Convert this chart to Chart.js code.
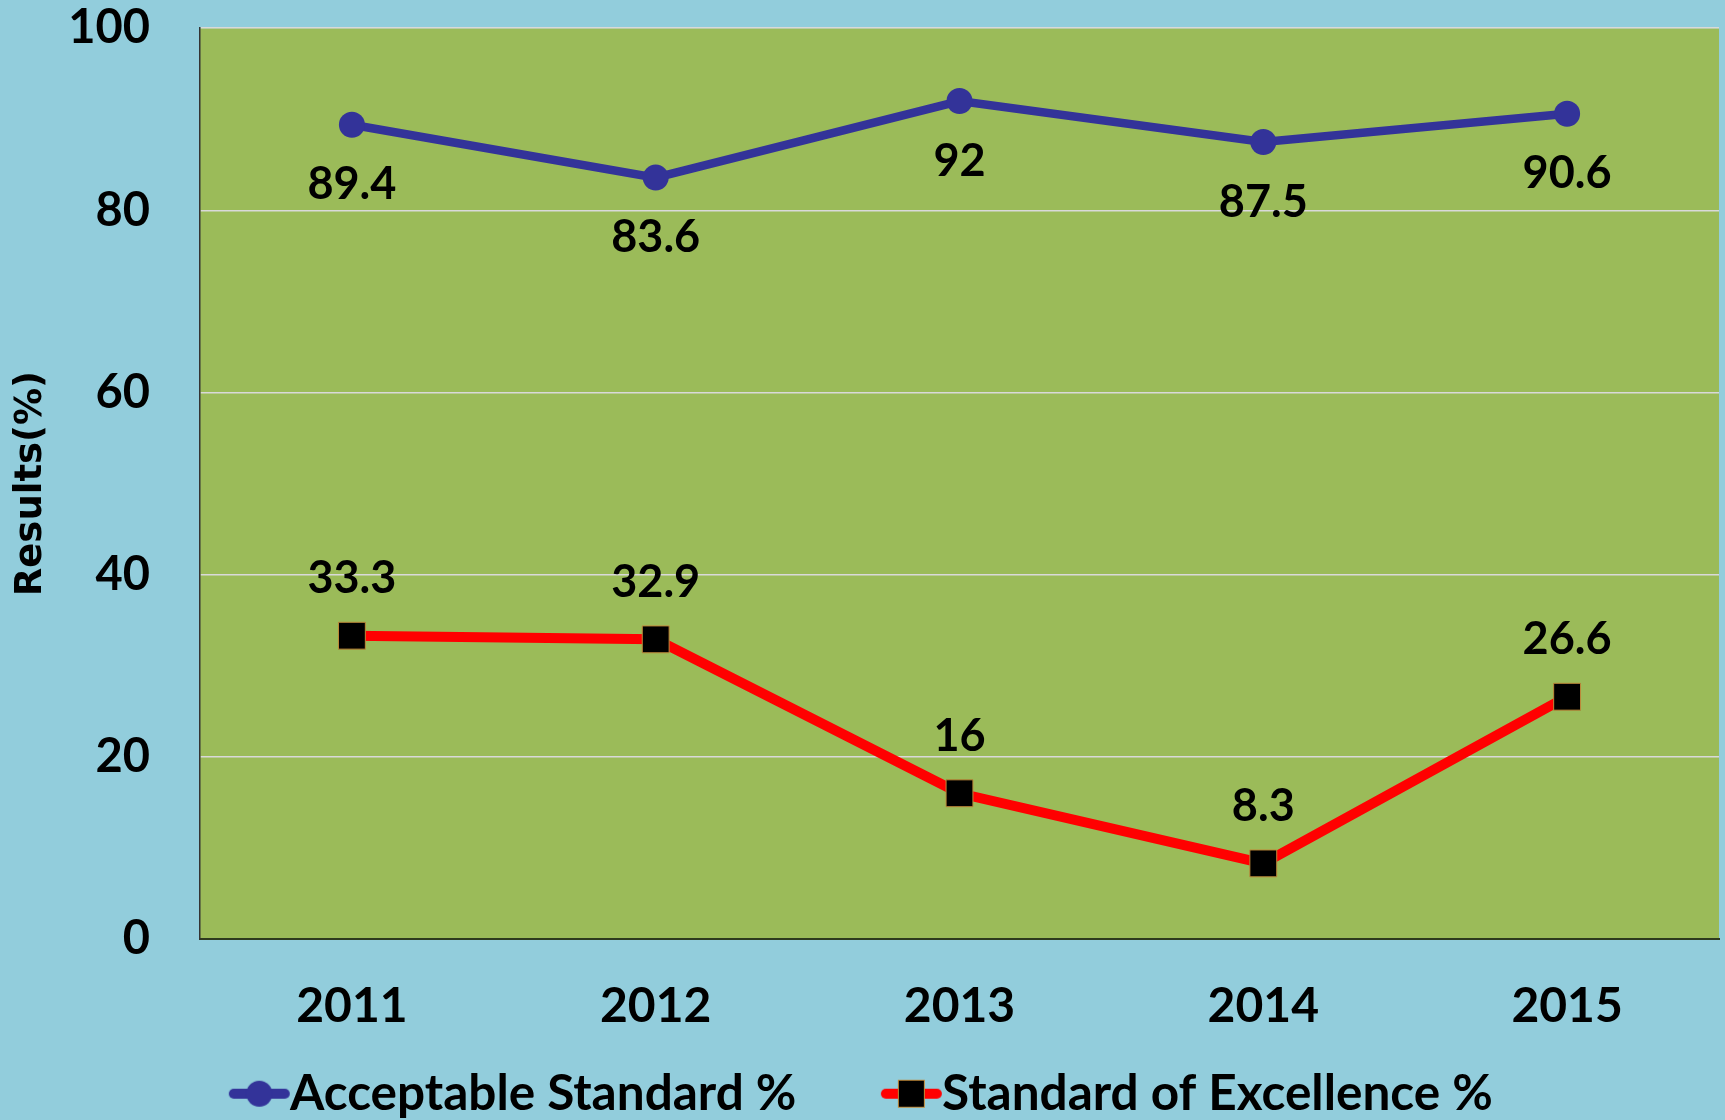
<!DOCTYPE html>
<html>
<head>
<meta charset="utf-8">
<script src="https://cdn.jsdelivr.net/npm/chart.js@4"></script>
<style>
  html, body { margin: 0; padding: 0; background: #92CDDC; overflow: hidden; }
  #wrap { width: 1725px; height: 1120px; }
  canvas { display: block; }
</style>
</head>
<body>
<div id="wrap"><canvas id="c" width="1725" height="1120"></canvas></div>
<script>
const categories = ['2011', '2012', '2013', '2014', '2015'];
const acceptable = [89.4, 83.6, 92, 87.5, 90.6];
const excellence = [33.3, 32.9, 16, 8.3, 26.6];
const seriesNames = ['Acceptable Standard %', 'Standard of Excellence %'];
const yTicks = [0, 20, 40, 60, 80, 100];
const yTitle = 'Results(%)';

const FONT = 'Lato';
const BLUE = '#333399';
const RED = '#FF0000';

// legend markers (line + point), drawn as small canvases
function legendMarker(kind) {
  const c = document.createElement('canvas');
  c.width = 140; c.height = 34;
  const g = c.getContext('2d');
  const x0 = 78, x1 = 139, cy = 17;
  g.lineCap = 'round';
  g.lineWidth = 10;
  g.strokeStyle = kind === 'circle' ? BLUE : RED;
  g.beginPath(); g.moveTo(x0 + 5, cy); g.lineTo(x1 - 5, cy); g.stroke();
  const mx = (x0 + x1) / 2;
  if (kind === 'circle') {
    g.fillStyle = BLUE;
    g.beginPath(); g.arc(mx, cy, 13, 0, Math.PI * 2); g.fill();
  } else {
    g.fillStyle = '#000000';
    g.fillRect(mx - 13, cy - 13.5, 26, 27);
    g.strokeStyle = '#C08A3A'; g.lineWidth = 1;
    g.strokeRect(mx - 13, cy - 13.5, 26, 27);
  }
  return c;
}
const markers = [legendMarker('circle'), legendMarker('rect')];

const plotBg = {
  id: 'plotBg',
  beforeDraw(chart) {
    const {ctx, chartArea: a} = chart;
    ctx.save();
    ctx.fillStyle = '#9BBB59';
    ctx.fillRect(a.left, a.top, a.right - a.left, a.bottom - a.top);
    ctx.restore();
  }
};

const valueLabels = {
  id: 'valueLabels',
  afterDatasetsDraw(chart) {
    const ctx = chart.ctx;
    ctx.save();
    ctx.font = 'bold 45px ' + FONT;
    ctx.fillStyle = '#000';
    ctx.textAlign = 'center';
    ctx.textBaseline = 'middle';
    chart.data.datasets.forEach((ds, i) => {
      const meta = chart.getDatasetMeta(i);
      meta.data.forEach((pt, j) => {
        const off = i === 0 ? 60 : -57;
        ctx.fillText(String(ds.data[j]), pt.x, pt.y + off);
      });
    });
    ctx.restore();
  }
};

new Chart(document.getElementById('c'), {
  type: 'line',
  data: {
    labels: categories,
    datasets: [
      {
        label: seriesNames[0],
        data: acceptable,
        borderColor: BLUE,
        backgroundColor: BLUE,
        borderWidth: 8.5,
        pointStyle: 'circle',
        pointRadius: 13,
        pointBackgroundColor: BLUE,
        pointBorderColor: BLUE,
        pointBorderWidth: 0,
        tension: 0
      },
      {
        label: seriesNames[1],
        data: excellence,
        borderColor: RED,
        backgroundColor: RED,
        borderWidth: 10,
        pointStyle: 'rect',
        pointRadius: 19,
        pointBackgroundColor: '#000000',
        pointBorderColor: '#C08A3A',
        pointBorderWidth: 1,
        tension: 0
      }
    ]
  },
  options: {
    responsive: false,
    animation: false,
    layout: { autoPadding: false, padding: { top: 28, right: 6, left: -50, bottom: 0 } },
    scales: {
      x: {
        offset: true,
        grid: { display: false, drawTicks: true, tickLength: 39, tickColor: 'rgba(0,0,0,0)' },
        border: { display: true, color: '#2E3A1E', width: 2 },
        ticks: { padding: 0, color: '#000', font: { family: FONT, weight: 'bold', size: 48 } },
        afterFit(s) { s.height = 98; s.paddingLeft = 0; s.paddingRight = 0; }
      },
      y: {
        min: 0, max: 100,
        afterBuildTicks(s) { s.ticks = yTicks.map(v => ({ value: v })); },
        grid: { color: '#D9D9D9', lineWidth: 1.5, drawTicks: true, tickLength: 50, tickColor: 'rgba(0,0,0,0)' },
        border: { display: true, color: '#333333', width: 1.5 },
        ticks: { padding: 0, color: '#000', font: { family: FONT, weight: 'bold', size: 47 } },
        title: {
          display: true, text: yTitle, color: '#000',
          font: { family: 'DejaVu Sans', weight: 'bold', size: 37 },
          padding: { top: 59, bottom: 0 }
        },
        afterFit(s) { s.width = 250; }
      }
    },
    plugins: {
      tooltip: { enabled: false },
      legend: {
        position: 'bottom',
        maxHeight: 83,
        labels: {
          usePointStyle: true,
          pointStyleWidth: 89,
          padding: 32,
          color: '#000',
          font: { family: FONT, weight: 'bold', size: 49.5 },
          generateLabels(chart) {
            const items = Chart.defaults.plugins.legend.labels.generateLabels(chart);
            items.forEach((it, i) => { it.pointStyle = markers[i]; });
            return items;
          }
        }
      }
    }
  },
  plugins: [plotBg, valueLabels]
});
</script>
</body>
</html>
